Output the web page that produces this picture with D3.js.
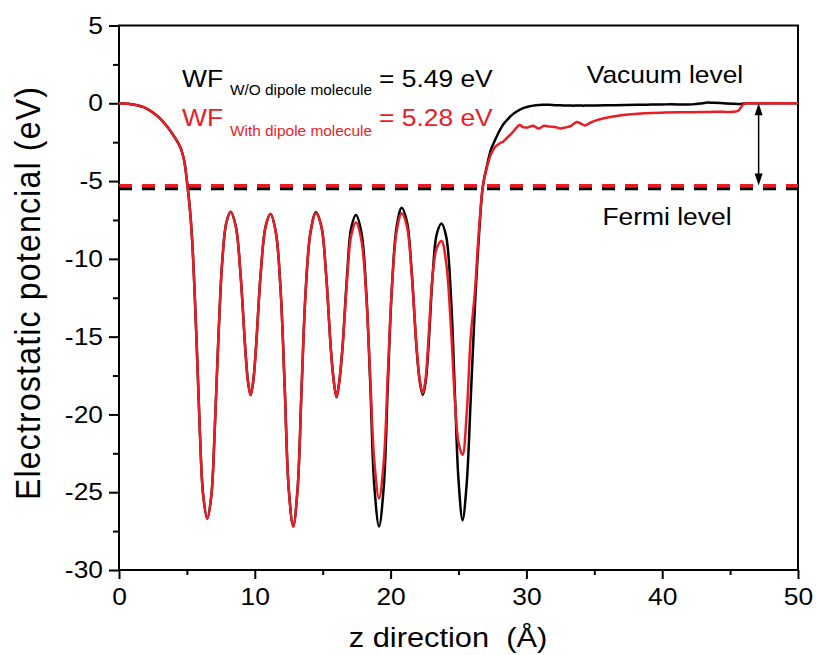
<!DOCTYPE html>
<html>
<head>
<meta charset="utf-8">
<script src="https://cdn.jsdelivr.net/npm/d3@7"></script>
<style>
  html, body { margin: 0; padding: 0; background: #fff; }
  svg { display: block; font-family: "Liberation Sans", Arial, Helvetica, sans-serif; }
</style>
</head>
<body>
<svg id="chart" width="816" height="655"></svg>
<script>
// Planar-averaged electrostatic potential across the slab (z in Å, potential in eV)
const zPos = [
  0, 1, 2, 3, 3.5, 4, 4.5, 4.8, 5.0, 5.2, 5.4, 5.7, 5.95, 6.2, 6.5, 6.8, 7.05, 7.3, 7.6, 7.9,
  8.22, 8.6, 8.95, 9.3, 9.5, 9.69, 9.88, 10.08, 10.43, 10.8, 11.16, 11.55, 11.9, 12.2, 12.5, 12.83,
  13.15, 13.45, 13.75, 14.1, 14.5, 14.9, 15.25, 15.6, 15.82, 16.02, 16.22, 16.45, 16.8, 17.1, 17.45,
  17.85, 18.2, 18.5, 18.8, 19.15, 19.5, 19.8, 20.1, 20.45, 20.82, 21.2, 21.55, 21.9, 22.15, 22.37,
  22.58, 22.8, 23.1, 23.4, 23.75, 24.1, 24.45, 24.75, 25.0, 25.3, 25.6, 25.9, 26.2, 26.5, 26.8,
  27.1, 27.4, 27.7, 28.0, 28.3, 28.6, 28.9, 29.2, 29.5, 29.8, 30.1, 30.5, 30.9, 31.3, 31.7, 32.1,
  32.5, 32.9, 33.3, 33.7, 34.0, 34.3, 34.7, 35.2, 35.8, 36.5, 37.3, 38.2, 39.2, 40.2, 41.2, 42.2,
  42.8, 43.2, 43.8, 44.5, 45.2, 45.6, 45.8, 46.0, 46.3, 47, 48, 49, 50
];

// Without dipole molecule (black)
const vWithout = [
  0, -0.08, -0.32, -0.95, -1.45, -2.05, -2.8, -3.7, -5.0, -6.6, -9.0, -15.0, -21.0, -25.2, -26.7, -25.2, -21.0, -15.5, -10.2, -7.7,
  -6.97, -7.9, -11.0, -15.8, -17.9, -18.75, -17.9, -15.8, -11.0, -7.9, -7.12, -8.3, -12.0, -18.2, -24.8, -27.2,
  -24.8, -18.2, -12.0, -8.3, -7.0, -7.9, -11.0, -15.8, -17.9, -18.9, -17.9, -15.8, -11.0, -8.0, -7.18,
  -8.3, -12.0, -18.0, -24.6, -27.2, -24.6, -18.0, -11.8, -7.9, -6.71, -7.6, -10.8, -15.6, -17.9, -18.75,
  -17.9, -15.5, -11.0, -8.4, -7.72, -8.6, -12.5, -19.0, -24.2, -26.8, -24.5, -19.0, -13.2, -8.6, -5.3,
  -4.0, -2.95, -2.35, -1.8, -1.35, -1.05, -0.78, -0.58, -0.42, -0.3, -0.22, -0.15, -0.11, -0.1, -0.1, -0.12,
  -0.13, -0.14, -0.15, -0.15, -0.15, -0.15, -0.14, -0.14, -0.13, -0.12, -0.11, -0.1, -0.08, -0.07, -0.07, -0.07,
  -0.02, 0.04, 0.03, 0.0, -0.03, -0.04, -0.04, -0.02, 0, 0, 0, 0, 0
];

// With dipole molecule (red)
const vWith = [
  0, -0.08, -0.32, -0.95, -1.45, -2.05, -2.8, -3.7, -5.0, -6.6, -9.0, -15.0, -21.0, -25.2, -26.7, -25.2, -21.0, -15.5, -10.2, -7.7,
  -6.97, -7.9, -11.0, -15.8, -17.9, -18.75, -17.9, -15.8, -11.0, -7.9, -7.12, -8.3, -12.0, -18.2, -24.8, -27.2,
  -24.8, -18.2, -12.0, -8.3, -7.07, -7.9, -11.0, -15.8, -17.9, -18.86, -17.9, -15.8, -11.3, -8.5, -7.67,
  -8.8, -12.3, -17.6, -23.0, -25.4, -23.0, -17.3, -11.8, -8.2, -7.07, -7.9, -10.9, -15.5, -17.8, -18.64,
  -17.7, -15.0, -11.0, -9.3, -8.85, -10.3, -14.5, -19.3, -21.8, -22.6, -20.0, -15.0, -12.2, -8.2, -5.3,
  -4.1, -3.25, -2.8, -2.6, -2.45, -2.2, -1.95, -1.65, -1.4, -1.55, -1.55, -1.45, -1.62, -1.45, -1.5, -1.52,
  -1.62, -1.55, -1.45, -1.2, -1.3, -1.42, -1.25, -1.08, -0.95, -0.83, -0.74, -0.67, -0.62, -0.6, -0.58, -0.57,
  -0.56, -0.56, -0.55, -0.55, -0.55, -0.48, -0.25, -0.05, 0, 0, 0, 0, 0
];

const fermiWithout = -5.49;
const fermiWith = -5.28;
const vacuumLevel = 0;
const gapArrowZ = 47.1;

const xTicks = [0, 10, 20, 30, 40, 50];
const xMinorTicks = [5, 15, 25, 35, 45];
const yTicks = [5, 0, -5, -10, -15, -20, -25, -30];
const yMinorTicks = [2.5, -2.5, -7.5, -12.5, -17.5, -22.5, -27.5];

const RED = "#ec1c24";
const BLACK = "#000";
const STRETCH = 1.1;   // horizontal widening of the lettering

const svg = d3.select("#chart");
const plotLeft = 119, plotRight = 798, plotTop = 25.5, plotBottom = 570;

const x = d3.scaleLinear().domain([0, 50]).range([plotLeft, plotRight]);
const y = d3.scaleLinear().domain([-30, 5]).range([plotBottom, plotTop]);

// widen a text element horizontally around its anchor point
function widen(sel) {
  sel.each(function () {
    const t = d3.select(this);
    const tx = +t.attr("x") || 0, ty = +t.attr("y") || 0;
    t.attr("x", 0).attr("y", 0)
     .attr("transform", `translate(${tx},${ty}) scale(${STRETCH},1)`);
  });
}

// ---- axes ----
const gx = svg.append("g").attr("transform", `translate(0,${plotBottom})`)
  .call(d3.axisBottom(x).tickValues(xTicks).tickSize(9).tickPadding(9)
        .tickSizeOuter(0).tickFormat(d => String(d)));
const gxMinor = svg.append("g").attr("transform", `translate(0,${plotBottom})`)
  .call(d3.axisBottom(x).tickValues(xMinorTicks).tickSize(5).tickSizeOuter(0).tickFormat(""));

const gy = svg.append("g").attr("transform", `translate(${plotLeft},0)`)
  .call(d3.axisLeft(y).tickValues(yTicks).tickSize(10).tickPadding(6)
        .tickSizeOuter(0).tickFormat(d => String(d)));
const gyMinor = svg.append("g").attr("transform", `translate(${plotLeft},0)`)
  .call(d3.axisLeft(y).tickValues(yMinorTicks).tickSize(6).tickSizeOuter(0).tickFormat(""));

[gx, gxMinor, gy, gyMinor].forEach(g => {
  g.select(".domain").remove();
  g.selectAll(".tick line").attr("stroke", BLACK).attr("stroke-width", 2);
  g.selectAll(".tick text").attr("fill", BLACK).attr("font-size", 24)
    .attr("font-family", '"Liberation Sans", Arial, sans-serif');
});
gx.selectAll(".tick text").call(widen);
gy.selectAll(".tick text").call(widen);

// frame
svg.append("rect")
  .attr("x", plotLeft).attr("y", plotTop)
  .attr("width", plotRight - plotLeft).attr("height", plotBottom - plotTop)
  .attr("fill", "none").attr("stroke", BLACK).attr("stroke-width", 2);

// ---- Fermi levels ----
[[fermiWithout, BLACK], [fermiWith, RED]].forEach(([v, c]) => {
  svg.append("line")
    .attr("x1", x(0)).attr("x2", x(50))
    .attr("y1", y(v)).attr("y2", y(v))
    .attr("stroke", c).attr("stroke-width", 3)
    .attr("stroke-dasharray", "13,10");
});

// ---- potential profiles ----
const line = (vals) => d3.line()
  .x((d, i) => x(zPos[i]))
  .y(d => y(d))
  .curve(d3.curveCatmullRom.alpha(0.5))(vals);

svg.append("path").attr("d", line(vWithout))
  .attr("fill", "none").attr("stroke", BLACK).attr("stroke-width", 2.5)
  .attr("stroke-linejoin", "round");
svg.append("path").attr("d", line(vWith))
  .attr("fill", "none").attr("stroke", RED).attr("stroke-width", 2.5)
  .attr("stroke-linejoin", "round");

// ---- work-function arrow between vacuum and Fermi level ----
const ax = x(gapArrowZ), ay0 = y(vacuumLevel), ay1 = y(fermiWith);
svg.append("line").attr("x1", ax).attr("x2", ax)
  .attr("y1", ay0 + 6).attr("y2", ay1 - 6)
  .attr("stroke", BLACK).attr("stroke-width", 1.5);
svg.append("path")
  .attr("d", `M${ax},${ay0} L${ax - 4},${ay0 + 12} L${ax + 4},${ay0 + 12} Z`)
  .attr("fill", BLACK);
svg.append("path")
  .attr("d", `M${ax},${ay1} L${ax - 4},${ay1 - 12} L${ax + 4},${ay1 - 12} Z`)
  .attr("fill", BLACK);

// ---- annotations ----
function label(txt, px, py, size, color, anchor) {
  return svg.append("text").attr("x", px).attr("y", py)
    .attr("font-size", size).attr("fill", color)
    .attr("text-anchor", anchor || "start")
    .style("white-space", "pre")
    .text(txt).call(widen);
}

label("WF", 182, 87, 24, BLACK);
label("W/O dipole molecule", 230, 95, 14, BLACK);
label("= 5.49 eV", 379, 87, 24, BLACK);

label("WF", 182, 126, 24, RED);
label("With dipole molecule", 230, 136, 14, RED);
label("= 5.28 eV", 379, 126, 24, RED);

label("Vacuum level", 665, 83, 24, BLACK, "middle");
label("Fermi level", 667, 225, 24, BLACK, "middle");

// axis titles
label("z direction  (Å)", 448, 647, 28, BLACK, "middle");

svg.append("text")
  .attr("font-size", 32).attr("fill", BLACK).attr("text-anchor", "middle")
  .attr("letter-spacing", 1.2)
  .attr("transform", `translate(40,293) rotate(-90) scale(1,${STRETCH})`)
  .text("Electrostatic potencial (eV)");
</script>
</body>
</html>
